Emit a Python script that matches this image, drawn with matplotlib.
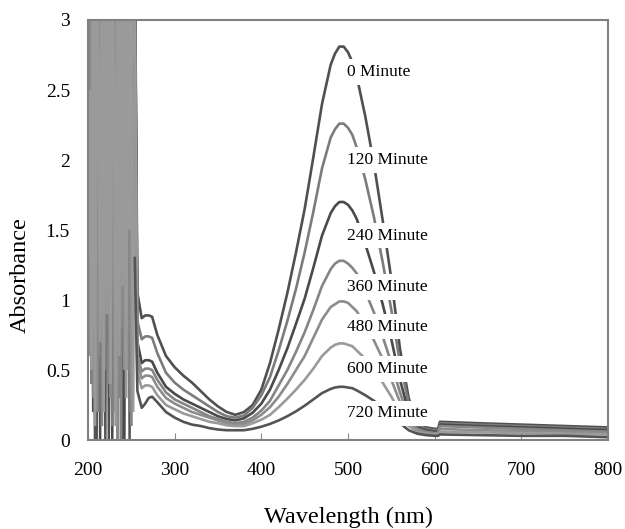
import matplotlib.pyplot as plt
import numpy as np

plt.rcParams["font.family"] = ["Liberation Serif", "DejaVu Serif"]

# saturated, noisy part of the spectra (200-254 nm, 2 nm steps)
noise_nm = list(range(200, 256, 2))
noise_0 = [2.9, 2.8, 2.95, 3.5, 3.5, 0.0, 3.5, 3.5, 3.5, 1.2, 3.5, 3.5, 0.0, 3.5,
           3.5, 3.5, 0.4, 3.5, 3.5, 3.5, 0.0, 3.5, 3.5, 3.5, 1.5, 3.5, 3.5, 3.5]
noise_120 = [2.2, 3.5, 0.4, 3.5, 0.9, 3.4, 0.2, 3.5, 1.1, 3.5, 0.5, 3.5, 0.8, 3.5,
             0.1, 3.5, 1.0, 3.5, 0.3, 3.5, 0.9, 3.5, 0.6, 3.5, 0.2, 3.5, 1.0, 3.4]
noise_240 = [2.0, 3.5, 3.5, 0.2, 3.5, 3.5, 3.5, 0.0, 3.5, 3.5, 3.5, 0.8, 3.5, 3.5,
             0.0, 3.5, 3.5, 3.5, 0.3, 3.5, 3.5, 0.0, 3.5, 3.5, 3.5, 0.6, 3.5, 3.5]
noise_360 = [1.6, 2.8, 3.5, 0.3, 3.5, 1.3, 0.6, 3.5, 0.1, 3.5, 1.2, 3.5, 0.4, 1.0,
             3.5, 0.2, 3.5, 0.8, 3.5, 0.0, 3.5, 1.2, 3.5, 0.5, 3.5, 0.1, 3.5, 2.7]
noise_480 = [2.0, 0.6, 3.5, 1.8, 3.5, 0.2, 3.5, 0.9, 3.5, 0.4, 3.5, 1.6, 3.5, 0.3,
             3.5, 1.1, 3.5, 0.0, 3.5, 0.8, 3.5, 0.5, 3.5, 1.5, 3.5, 0.3, 3.5, 3.2]
noise_600 = [1.3, 2.5, 0.5, 3.5, 0.1, 3.5, 2.6, 0.7, 3.5, 0.2, 3.5, 0.9, 3.5, 0.4,
             3.5, 2.5, 0.1, 3.5, 0.6, 3.5, 1.1, 3.5, 0.3, 3.5, 1.5, 3.5, 0.2, 3.0]
noise_720 = [0.8, 3.5, 3.5, 3.5, 0.0, 3.5, 3.5, 0.5, 3.5, 3.5, 0.0, 3.5, 3.5, 3.5,
             0.2, 3.5, 3.5, 0.0, 3.5, 3.5, 3.5, 0.9, 3.5, 3.5, 0.0, 3.5, 3.5, 1.3]

# smooth part of the spectra
wl = [257, 262, 266, 270, 274, 280, 290, 300, 310, 320, 330, 340, 350, 360,
      370, 380, 390, 400, 410, 420, 430, 440, 450, 460, 470, 480, 485, 490,
      495, 500, 505, 510, 520, 530, 540, 550, 560, 570, 580, 590, 600, 604,
      606, 650, 700, 750, 800]

abs_0 = [1.05, 0.87, 0.89, 0.89, 0.88, 0.75, 0.60, 0.52, 0.46, 0.41, 0.35,
         0.29, 0.24, 0.20, 0.18, 0.20, 0.25, 0.36, 0.55, 0.79, 1.05, 1.34,
         1.65, 2.02, 2.40, 2.68, 2.76, 2.81, 2.81, 2.77, 2.70, 2.60, 2.31,
         1.97, 1.57, 1.15, 0.65, 0.30, 0.12, 0.09, 0.08, 0.08, 0.13, 0.12,
         0.11, 0.10, 0.09]
abs_120 = [0.85, 0.72, 0.74, 0.74, 0.73, 0.62, 0.48, 0.41, 0.36, 0.32, 0.28,
           0.24, 0.20, 0.17, 0.16, 0.175, 0.23, 0.32, 0.45, 0.64, 0.85, 1.08,
           1.34, 1.63, 1.94, 2.16, 2.22, 2.26, 2.26, 2.23, 2.18, 2.09, 1.86,
           1.59, 1.27, 0.93, 0.55, 0.26, 0.11, 0.08, 0.07, 0.07, 0.12, 0.11,
           0.10, 0.09, 0.08]
abs_240 = [0.70, 0.55, 0.57, 0.57, 0.56, 0.48, 0.38, 0.33, 0.29, 0.26, 0.23,
           0.20, 0.17, 0.15, 0.14, 0.155, 0.195, 0.26, 0.36, 0.50, 0.655, 0.83,
           1.01, 1.23, 1.46, 1.62, 1.67, 1.70, 1.70, 1.68, 1.64, 1.58, 1.40,
           1.20, 0.97, 0.72, 0.43, 0.20, 0.09, 0.07, 0.06, 0.06, 0.11, 0.10,
           0.09, 0.08, 0.07]
abs_360 = [0.60, 0.49, 0.51, 0.51, 0.50, 0.43, 0.34, 0.29, 0.26, 0.23, 0.20,
           0.17, 0.15, 0.13, 0.12, 0.13, 0.16, 0.21, 0.28, 0.39, 0.50, 0.63,
           0.77, 0.93, 1.10, 1.22, 1.26, 1.28, 1.28, 1.26, 1.23, 1.19, 1.06,
           0.91, 0.74, 0.55, 0.34, 0.16, 0.08, 0.06, 0.05, 0.05, 0.10, 0.09,
           0.08, 0.07, 0.06]
abs_480 = [0.55, 0.44, 0.46, 0.46, 0.45, 0.38, 0.30, 0.26, 0.23, 0.20, 0.18,
           0.16, 0.14, 0.12, 0.11, 0.115, 0.14, 0.18, 0.235, 0.31, 0.40, 0.50,
           0.60, 0.73, 0.86, 0.95, 0.97, 0.99, 0.99, 0.98, 0.95, 0.92, 0.82,
           0.71, 0.58, 0.43, 0.27, 0.13, 0.07, 0.05, 0.045, 0.045, 0.08, 0.07,
           0.065, 0.06, 0.05]
abs_600 = [0.48, 0.37, 0.39, 0.39, 0.38, 0.32, 0.25, 0.22, 0.19, 0.17, 0.15,
           0.13, 0.12, 0.105, 0.10, 0.10, 0.12, 0.145, 0.18, 0.235, 0.295, 0.36,
           0.43, 0.51, 0.60, 0.66, 0.68, 0.69, 0.69, 0.68, 0.67, 0.64, 0.58,
           0.50, 0.41, 0.31, 0.20, 0.10, 0.06, 0.045, 0.04, 0.04, 0.06, 0.055,
           0.05, 0.045, 0.04]
abs_720 = [0.35, 0.23, 0.26, 0.30, 0.31, 0.27, 0.20, 0.16, 0.13, 0.11, 0.10,
           0.085, 0.075, 0.07, 0.07, 0.07, 0.08, 0.095, 0.115, 0.14, 0.17,
           0.205, 0.245, 0.29, 0.335, 0.365, 0.375, 0.38, 0.38, 0.375, 0.37,
           0.355, 0.32, 0.28, 0.23, 0.18, 0.12, 0.07, 0.045, 0.035, 0.03, 0.03,
           0.04, 0.035, 0.03, 0.03, 0.02]

series = [abs_0, abs_120, abs_240, abs_360, abs_480, abs_600, abs_720]
noise = [noise_0, noise_120, noise_240, noise_360, noise_480, noise_600,
         noise_720]
labels = ["0 Minute", "120 Minute", "240 Minute", "360 Minute",
          "480 Minute", "600 Minute", "720 Minute"]
label_y = [2.63, 2.0, 1.46, 1.095, 0.81, 0.505, 0.19]
colors = ["#505050", "#7c7c7c", "#4a4a4a", "#858585", "#8c8c8c", "#9a9a9a",
          "#545454"]
dark = [True, False, True, False, False, False, True]

fig = plt.figure(figsize=(6.25, 5.29), dpi=100)
ax = fig.add_axes([0.1408, 0.1682, 0.832, 0.794])

# noisy UV part: dark streaks first, grey curves over them
for want_dark in (True, False):
    for nz, col, d in zip(noise, colors, dark):
        if d == want_dark:
            ax.plot(noise_nm, nz, color=col, lw=1.8 if d else 2.0,
                    solid_joinstyle="miter")

for vals, nz, col in zip(series, noise, colors):
    ax.plot([noise_nm[-1]] + wl, [nz[-1]] + vals, color=col, lw=1.9,
            solid_joinstyle="round")

for text, ty in zip(labels, label_y):
    ax.text(499, ty, text, fontsize=12.5, ha="left", va="center",
            bbox=dict(facecolor="white", edgecolor="none", pad=3.5))

ax.set_xlim(200, 800)
ax.set_ylim(0, 3)
ax.set_xticks(np.arange(200, 801, 100))
ax.set_yticks([0, 0.5, 1, 1.5, 2, 2.5, 3])
ax.set_yticklabels(["0", "0.5", "1", "1.5", "2", "2.5", "3"])
ax.tick_params(axis="x", direction="in", length=5, color="#888888",
               labelsize=14, pad=16)
ax.tick_params(axis="y", length=0, labelsize=14, pad=13)
for sp in ax.spines.values():
    sp.set_color("#808080")
    sp.set_linewidth(1.5)

ax.set_xlabel("Wavelength (nm)", fontsize=17.5, labelpad=20)
ax.set_ylabel("Absorbance", fontsize=17.5)
ax.yaxis.set_label_coords(-0.11, 0.393)

fig.savefig("out.png", dpi=100)
